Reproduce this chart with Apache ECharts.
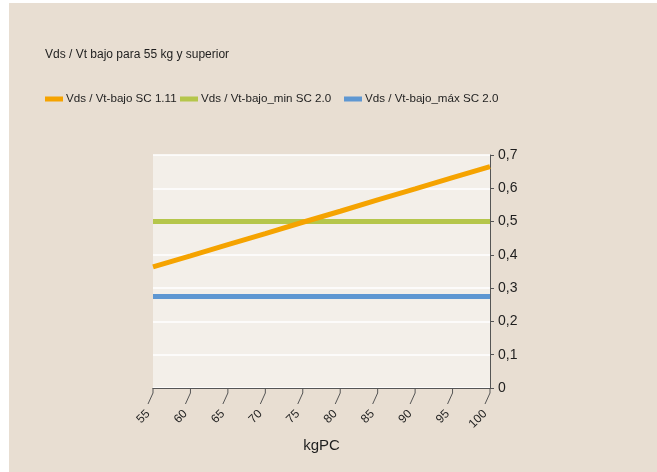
<!DOCTYPE html>
<html>
<head>
<meta charset="utf-8">
<script src="https://cdn.jsdelivr.net/npm/echarts@6/dist/echarts.min.js"></script>
<style>
html,body{margin:0;padding:0;background:#ffffff;width:657px;height:472px;overflow:hidden;}
#chart{position:absolute;left:9px;top:3px;width:648px;height:469px;}
</style>
</head>
<body>
<div id="chart"></div>
<script>
const titleText = 'Vds / Vt bajo para 55 kg y superior';
const xName = 'kgPC';
const xValues = [55, 60, 65, 70, 75, 80, 85, 90, 95, 100];
const seriesNames = ['Vds / Vt-bajo SC 1.11', 'Vds / Vt-bajo_min SC 2.0', 'Vds / Vt-bajo_máx SC 2.0'];
const orangeValues = [0.364, 0.397, 0.431, 0.464, 0.498, 0.531, 0.565, 0.598, 0.632, 0.665];
const greenValues = [0.5, 0.5, 0.5, 0.5, 0.5, 0.5, 0.5, 0.5, 0.5, 0.5];
const blueValues = [0.275, 0.275, 0.275, 0.275, 0.275, 0.275, 0.275, 0.275, 0.275, 0.275];
const yTicks = [0, 0.1, 0.2, 0.3, 0.4, 0.5, 0.6, 0.7];

const colors = ['#F5A300', '#B5C64B', '#5E97D2'];
const FONT = '"Liberation Sans", Arial, Helvetica, sans-serif';
const TXT = '#1e1e1e';

function pairs(vals) { return xValues.map((x, i) => [x, vals[i]]); }

const chart = echarts.init(document.getElementById('chart'), null, {renderer: 'canvas'});

const legendBase = {
  top: 90, padding: 0, itemWidth: 18, itemHeight: 5, icon: 'rect',
  selectedMode: false,
  textStyle: {fontFamily: FONT, fontSize: 11.6, color: TXT, padding: [0, 0, 0, -2]}
};

chart.setOption({
  animation: false,
  backgroundColor: '#E8DED2',
  textStyle: {fontFamily: FONT},
  title: {
    text: titleText, left: 36, top: 46, padding: 0,
    textStyle: {fontFamily: FONT, fontSize: 12, fontWeight: 'normal', color: TXT}
  },
  legend: [
    Object.assign({}, legendBase, {left: 36, data: [seriesNames[0]]}),
    Object.assign({}, legendBase, {left: 171, data: [seriesNames[1]]}),
    Object.assign({}, legendBase, {left: 335, data: [seriesNames[2]]})
  ],
  grid: {
    left: 144, right: 167, top: 152, bottom: 84,
    show: true, backgroundColor: '#F3EFE9', borderWidth: 0
  },
  xAxis: {
    type: 'value', min: 55, max: 100, interval: 5,
    name: xName, nameLocation: 'middle', nameGap: 50,
    nameTextStyle: {fontFamily: FONT, fontSize: 15, color: TXT},
    axisLine: {show: true, lineStyle: {color: '#555555', width: 1}},
    axisTick: {show: false},
    splitLine: {show: false},
    axisLabel: {rotate: 45, margin: 19, padding: [0, 7, 0, 0], fontFamily: FONT, fontSize: 12, color: TXT}
  },
  yAxis: {
    type: 'value', position: 'right', min: 0, max: 0.7, interval: 0.1,
    axisLine: {show: true, lineStyle: {color: '#555555', width: 1}},
    axisTick: {show: true, length: 4, lineStyle: {color: '#555555'}},
    splitLine: {show: true, lineStyle: {color: '#ffffff', width: 1.5}},
    axisLabel: {
      margin: 8, fontFamily: FONT, fontSize: 14, color: TXT,
      formatter: v => (Math.abs(v) < 1e-9 ? '0' : v.toFixed(1).replace('.', ','))
    }
  },
  series: [
    {
      name: seriesNames[0], type: 'line', data: pairs(orangeValues), z: 5,
      showSymbol: false, symbol: 'none', color: colors[0],
      lineStyle: {width: 5, color: colors[0]}
    },
    {
      name: seriesNames[1], type: 'line', data: pairs(greenValues), z: 3,
      showSymbol: false, symbol: 'none', color: colors[1],
      lineStyle: {width: 5, color: colors[1]}
    },
    {
      name: seriesNames[2], type: 'line', data: pairs(blueValues), z: 3,
      showSymbol: false, symbol: 'none', color: colors[2],
      lineStyle: {width: 5, color: colors[2]}
    },
    {
      type: 'custom', clip: false, silent: true, z: 6,
      data: xValues.map(x => [x, 0]),
      renderItem: function (params, api) {
        const p = api.coord([api.value(0), api.value(1)]);
        return {
          type: 'polyline',
          shape: {points: [[p[0], p[1]], [p[0], p[1] + 5], [p[0] - 5, p[1] + 16]]},
          style: {stroke: '#555555', lineWidth: 1, fill: null}
        };
      }
    }
  ]
});
</script>
</body>
</html>
